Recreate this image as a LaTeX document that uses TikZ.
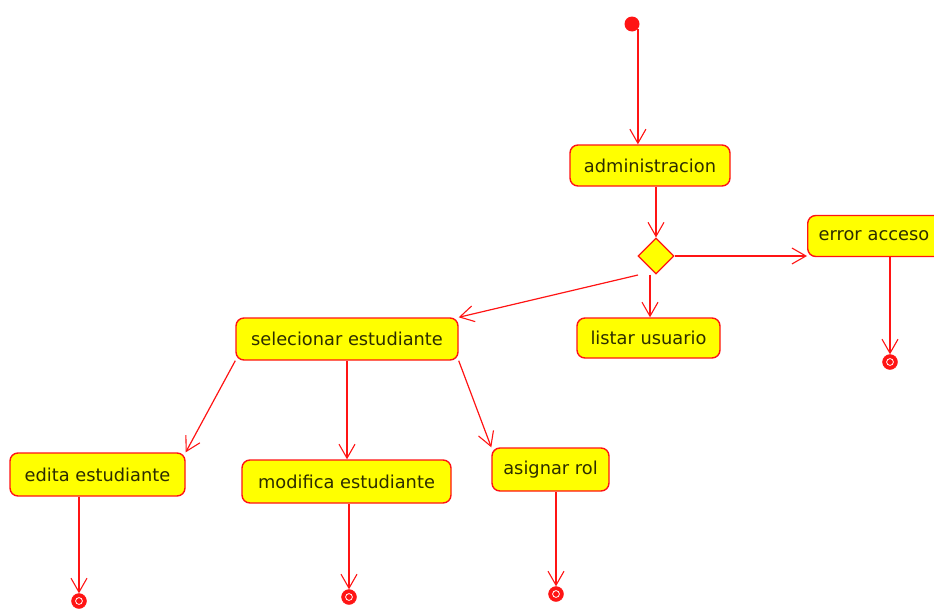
\documentclass[tikz,border=0pt]{standalone}
\usepackage{fontspec}
\setmainfont{DejaVu Sans}
\usetikzlibrary{arrows.meta,shapes.geometric}
\definecolor{lred}{RGB}{255,20,20}
\definecolor{lyel}{RGB}{255,255,0}
\definecolor{ltxt}{RGB}{45,45,0}
\tikzset{
  act/.style={draw=lred, line width=1.4pt, fill=lyel, rounded corners=8pt, inner sep=0pt,
    font=\fontsize{17.8}{20}\selectfont, text=ltxt},
  arr/.style={draw=lred, line width=1.2pt, -{Straight Barb[length=14pt,width=16pt,line width=1.1pt]}},
  fin/.style={circle, fill=lred, draw=lred, minimum size=15pt, inner sep=0pt},
  startnode/.style={circle, fill=lred, minimum size=15pt, inner sep=0pt},
  dec/.style={diamond, draw=lred, line width=1.2pt, fill=lyel, minimum width=36pt, minimum height=36pt, inner sep=0pt}
}
\begin{document}
\begin{tikzpicture}[x=1pt,y=-1pt]
\useasboundingbox (0,0) rectangle (934,608);
\node[startnode] (start) at (632,24) {};
\node[act, minimum width=160pt, minimum height=41pt] (admin) at (650,165.5) {administracion};
\node[dec] (d) at (656,256) {};
\node[act, anchor=west, minimum width=140pt, minimum height=41pt, text width=125pt, align=left, inner xsep=11pt] (err) at (807,236) {error acceso};
\node[act, minimum width=143pt, minimum height=40pt] (list) at (648.5,338) {listar usuario};
\node[act, minimum width=222pt, minimum height=42pt] (sel) at (347,339) {selecionar estudiante};
\node[act, minimum width=175pt, minimum height=43pt] (edit) at (97.5,474.5) {edita estudiante};
\node[act, minimum width=209pt, minimum height=43pt] (mod) at (346.5,481.5) {modifica estudiante};
\node[act, minimum width=117pt, minimum height=43pt] (asig) at (550.5,469.5) {asignar rol};
\node[fin] (f1) at (890,362) {};
\node[fin] (f2) at (79,601) {};
\node[fin] (f3) at (349,597) {};
\node[fin] (f4) at (556,594) {};
\foreach \f in {f1,f2,f3,f4}{\draw[white, line width=0.8pt] (\f) circle (3.4pt);}
\coordinate (dsw) at (638,275);
\draw[arr] (start.-40) -- (start.-40 |- admin.north);
\draw[arr] (d |- admin.south) -- (d.north);
\draw[arr] (d.east) -- (d.east -| err.west);
\draw[arr] ([xshift=-6pt]d.south) -- ([xshift=-6pt]d.south |- list.north);
\draw[arr] (dsw) -- (sel.north east);
\draw[arr] (sel.south west) -- (edit.north east);
\draw[arr] (sel.south) -- (sel.south |- mod.north);
\draw[arr] (sel.south east) -- (asig.north west);
\draw[arr] (f1 |- err.south) -- (f1.north);
\draw[arr] (f2 |- edit.south) -- (f2.north);
\draw[arr] (f3 |- mod.south) -- (f3.north);
\draw[arr] (f4 |- asig.south) -- (f4.north);
\end{tikzpicture}
\end{document}
